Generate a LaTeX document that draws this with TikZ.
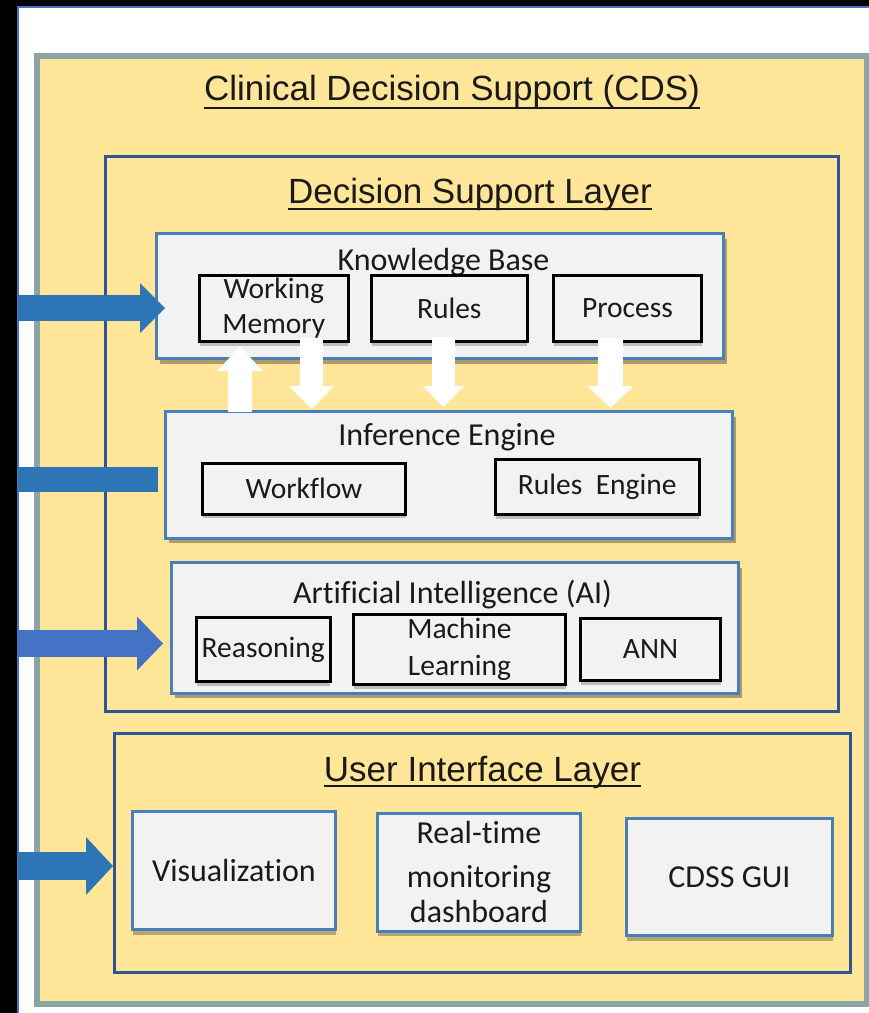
\documentclass[tikz,border=0pt]{standalone}
\usepackage{fontspec}
\setmainfont{Carlito}[Ligatures=NoCommon]
\newfontfamily\headfont{Liberation Sans}
\usetikzlibrary{arrows.meta,shadows}

\definecolor{frameline}{HTML}{4472C4}
\definecolor{cdsfill}{HTML}{FFE699}
\definecolor{cdsline}{HTML}{8BA5A7}
\definecolor{layerline}{HTML}{2F5597}
\definecolor{boxline}{HTML}{4A7EBB}
\definecolor{boxfill}{HTML}{F2F2F2}
\definecolor{feedblue}{HTML}{2E75B6}
\definecolor{feedblueb}{HTML}{4472C4}
\definecolor{inktext}{HTML}{1A1A1A}

\tikzset{
  cdsbox/.style={draw=cdsline, fill=cdsfill, line width=6pt},
  layerbox/.style={draw=layerline, line width=3pt},
  groupbox/.style={draw=boxline, fill=boxfill, line width=3pt,
    drop shadow={shadow xshift=3pt, shadow yshift=-5pt, opacity=.32, fill=black}},
  itembox/.style={draw=black, fill=boxfill, line width=3pt, align=center,
    font=\fontsize{29.5}{35}\selectfont,
    drop shadow={shadow xshift=0pt, shadow yshift=-4pt, opacity=.22, fill=black}},
  panelbox/.style={draw=boxline, fill=boxfill, line width=3pt, align=center,
    font=\fontsize{32}{35}\selectfont,
    drop shadow={shadow xshift=0pt, shadow yshift=-5pt, opacity=.28, fill=black}},
  headtitle/.style={font=\headfont\fontsize{35}{42}\selectfont, anchor=base},
  grouptitle/.style={font=\fontsize{32}{38}\selectfont, anchor=base},
  uline/.style={line width=2.5pt, draw=inktext},
  fatarrow/.style n args={4}{draw=#1, line width=#2,
    -{Triangle[width=#3, length=#4, line width=0pt]}},
}

\begin{document}
\begin{tikzpicture}[x=1pt, y=-1pt,
  every node/.style={inner sep=0pt, outer sep=0pt, text=inktext}]
\useasboundingbox (0,0) rectangle (869,1013);

% screen frame
\fill[black] (0,0) rectangle (869,1013);
\fill[white] (18,7) rectangle (869,1013);
\draw[frameline, line width=2pt] (18,1013) -- (18,7) -- (869,7);

% outer container
\node[cdsbox, minimum width=829.5pt, minimum height=948pt] (cds) at (451.75,529.5) {};
\node[headtitle] (t-cds) at (452,100) {Clinical Decision Support (CDS)};
\draw[uline] ([yshift=-8pt]t-cds.base west) -- ([yshift=-8pt]t-cds.base east);

% decision support layer
\node[layerbox, minimum width=733pt, minimum height=555pt] (dsl) at (472,434) {};
\node[headtitle] (t-dsl) at (470,203) {Decision Support Layer};
\draw[uline] ([yshift=-6pt]t-dsl.base west) -- ([yshift=-6pt]t-dsl.base east);

% knowledge base
\node[groupbox, minimum width=567pt, minimum height=125pt] (kb) at (440,296) {};
\node[grouptitle] (t-kb) at (443.5,270) {Knowledge Base};
\node[itembox, minimum width=148.5pt, minimum height=66pt] (wm) at (273.75,308.5) {Working\\Memory};
\node[itembox, minimum width=155.5pt, minimum height=66pt] (rules) at (449.25,308.5) {Rules};
\node[itembox, minimum width=148pt, minimum height=66pt] (proc) at (627.5,308.5) {Process};

% inference engine
\node[groupbox, minimum width=567pt, minimum height=126.5pt] (ie) at (449,474.75) {};
\node[grouptitle] (t-ie) at (447,445) {Inference Engine};
\node[itembox, minimum width=203pt, minimum height=50.5pt] (wf) at (304,488.75) {Workflow};
\node[itembox, minimum width=203.5pt, minimum height=55pt] (re) at (597.25,487) {Rules\ \ Engine};

% artificial intelligence
\node[groupbox, minimum width=567pt, minimum height=130.5pt] (ai) at (455,627.75) {};
\node[grouptitle] (t-ai) at (452.5,603) {Artificial Intelligence (AI)};
\node[itembox, minimum width=133.5pt, minimum height=64pt] (reas) at (263.25,649.5) {Reasoning};
\node[itembox, minimum width=212pt, minimum height=70pt] (ml) at (459.5,649.5) {Machine\\[2pt]Learning};
\node[itembox, minimum width=140pt, minimum height=62.5pt] (ann) at (650.5,649.25) {ANN};

% user interface layer
\node[layerbox, minimum width=736pt, minimum height=239pt] (uil) at (482.5,852.5) {};
\node[headtitle] (t-uil) at (482.5,781) {User Interface Layer};
\draw[uline] ([yshift=-5pt]t-uil.base west) -- ([yshift=-5pt]t-uil.base east);
\node[panelbox, minimum width=203pt, minimum height=118pt] (vis) at (234,870.5) {Visualization};
\node[panelbox, minimum width=203pt, minimum height=118pt] (rt) at (479,872) {Real-time\\[9pt]monitoring\\dashboard};
\node[panelbox, minimum width=206pt, minimum height=117.5pt] (gui) at (729.5,876.75) {CDSS GUI};

% exchange between knowledge base and inference engine
\coordinate (upx) at (240,0);
\coordinate (wmx) at (311.5,0);
\coordinate (rlx) at (443.5,0);
\coordinate (prx) at (610.5,0);
\draw[fatarrow={white}{24pt}{45pt}{25pt}] (ie.north -| upx) -- ([yshift=-4.5pt]wm.south -| upx);
\draw[fatarrow={white}{23pt}{45pt}{23pt}] ([yshift=3.5pt]wm.south -| wmx) -- ([yshift=2.5pt]ie.north -| wmx);
\draw[fatarrow={white}{23pt}{41pt}{21pt}] ([yshift=4.5pt]rules.south -| rlx) -- ([yshift=4.5pt]ie.north -| rlx);
\draw[fatarrow={white}{25pt}{46pt}{22pt}] ([yshift=3.5pt]proc.south -| prx) -- ([yshift=3.5pt]ie.north -| prx);

% incoming feeds from the left
\coordinate (in1) at (18,308);
\coordinate (in2) at (18,479.5);
\coordinate (in3) at (18,643.5);
\coordinate (in4) at (18,866);
\draw[fatarrow={feedblue}{26pt}{50pt}{25pt}] (in1) -- ([xshift=8.5pt]kb.west |- in1);
\draw[feedblue, line width=25pt] (in2) -- ([xshift=-7.5pt]ie.west |- in2);
\draw[fatarrow={feedblueb}{27pt}{54pt}{26pt}] (in3) -- ([xshift=-8.5pt]ai.west |- in3);
\draw[fatarrow={feedblue}{28pt}{58pt}{27pt}] (in4) -- ([xshift=-1.5pt]uil.west |- in4);
\end{tikzpicture}
\end{document}
